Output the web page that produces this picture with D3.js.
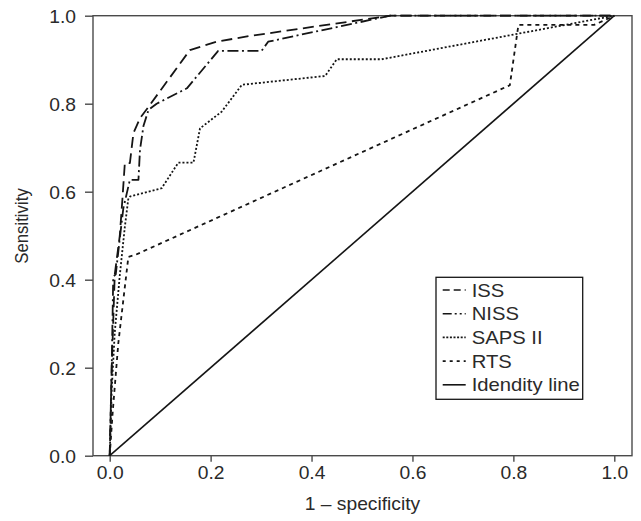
<!DOCTYPE html>
<html>
<head>
<meta charset="utf-8">
<script src="https://cdn.jsdelivr.net/npm/d3@7/dist/d3.min.js"></script>
<style>
  html, body { margin: 0; padding: 0; background: #fff; }
  svg { display: block; font-family: "Liberation Sans", Arial, Helvetica, sans-serif; }
</style>
</head>
<body>
<svg id="chart" width="641" height="521"></svg>
<script>
// ---- data ----
const xTicks = [0, 0.2, 0.4, 0.6, 0.8, 1.0];
const yTicks = [0, 0.2, 0.4, 0.6, 0.8, 1.0];
const seriesNames = ["ISS", "NISS", "SAPS II", "RTS", "Idendity line"];

const issX  = [0, 0.004, 0.010, 0.020, 0.025, 0.030, 0.040, 0.047, 0.060, 0.077, 0.159, 0.212, 0.278, 0.556, 1.0];
const issY  = [0, 0.200, 0.412, 0.500, 0.580, 0.665, 0.665, 0.733, 0.767, 0.793, 0.922, 0.941, 0.954, 1.0, 1.0];

const nissX = [0, 0.004, 0.007, 0.012, 0.020, 0.027, 0.040, 0.057, 0.060, 0.067, 0.077, 0.093, 0.153, 0.215, 0.301, 0.314, 0.556, 1.0];
const nissY = [0, 0.200, 0.407, 0.412, 0.494, 0.562, 0.627, 0.627, 0.695, 0.750, 0.786, 0.800, 0.835, 0.920, 0.920, 0.941, 1.0, 1.0];

const sapsX = [0, 0.004, 0.010, 0.020, 0.030, 0.037, 0.040, 0.103, 0.136, 0.166, 0.179, 0.222, 0.262, 0.427, 0.450, 0.539, 1.0];
const sapsY = [0, 0.150, 0.280, 0.410, 0.520, 0.585, 0.589, 0.608, 0.666, 0.666, 0.744, 0.782, 0.843, 0.863, 0.901, 0.901, 1.0];

const rtsX  = [0, 0.006, 0.017, 0.027, 0.037, 0.050, 0.793, 0.810, 0.960, 1.0];
const rtsY  = [0, 0.100, 0.255, 0.354, 0.452, 0.456, 0.842, 0.979, 0.979, 1.0];

const idX   = [0, 1];
const idY   = [0, 1];

// ---- layout ----
const svg = d3.select("#chart");
const mLeft = 93, mRight = 632, mTop = 15.7, mBottom = 455.7;
const TX = 1.1; // horizontal stretch of the reference's lettering

const x = d3.scaleLinear().domain([-0.0331, 1.0351]).range([mLeft, mRight]);
const y = d3.scaleLinear().domain([0, 1]).range([mBottom, mTop]);

const axisColor = "#4a4a4a";
const lineColor = "#151515";
const textColor = "#2a2a2a";

// frame
svg.append("rect")
  .attr("x", mLeft).attr("y", mTop)
  .attr("width", mRight - mLeft).attr("height", mBottom - mTop)
  .attr("fill", "none").attr("stroke", axisColor).attr("stroke-width", 1.4);

// x axis
const gx = svg.append("g").attr("transform", `translate(0,${mBottom})`)
  .call(d3.axisBottom(x).tickValues(xTicks).tickFormat(d3.format(".1f")).tickSize(6).tickSizeOuter(0));
gx.select(".domain").remove();
gx.selectAll(".tick line").attr("stroke", axisColor).attr("stroke-width", 1.4);
gx.selectAll(".tick text")
  .attr("y", 11).attr("dy", "0.71em")
  .attr("font-size", 17.5).attr("fill", textColor)
  .attr("font-family", "'Liberation Sans', Arial, Helvetica, sans-serif")
  .attr("transform", `scale(${TX},1)`);

// y axis
const gy = svg.append("g").attr("transform", `translate(${mLeft},0)`)
  .call(d3.axisLeft(y).tickValues(yTicks).tickFormat(d3.format(".1f")).tickSize(8).tickSizeOuter(0));
gy.select(".domain").remove();
gy.selectAll(".tick line").attr("stroke", axisColor).attr("stroke-width", 1.4);
gy.selectAll(".tick text")
  .attr("x", -17 / TX).attr("dy", "0.36em")
  .attr("font-size", 17.5).attr("fill", textColor)
  .attr("font-family", "'Liberation Sans', Arial, Helvetica, sans-serif")
  .attr("transform", `scale(${TX},1)`);

// axis titles
svg.append("text")
  .attr("transform", `translate(${(mLeft + mRight) / 2},510) scale(${TX},1)`)
  .attr("text-anchor", "middle")
  .attr("font-size", 17.5).attr("fill", textColor)
  .text("1 \u2013 specificity");

svg.append("text")
  .attr("transform", `translate(28,226) scale(${TX},1) rotate(-90)`)
  .attr("text-anchor", "middle")
  .attr("font-size", 16.8).attr("fill", textColor)
  .text("Sensitivity");

// curves
const styles = [
  { xs: issX,  ys: issY,  dash: "11,5.5",    w: 1.8 },
  { xs: nissX, ys: nissY, dash: "11,3.5,2,3.5", w: 1.8 },
  { xs: sapsX, ys: sapsY, dash: "2,2",       w: 1.8 },
  { xs: rtsX,  ys: rtsY,  dash: "4,4",       w: 1.8 },
  { xs: idX,   ys: idY,   dash: null,        w: 1.6 }
];

const line = d3.line().x(d => x(d[0])).y(d => y(d[1]));
const plot = svg.append("g");
styles.forEach(s => {
  const pts = s.xs.map((v, i) => [v, s.ys[i]]);
  plot.append("path")
    .attr("d", line(pts))
    .attr("fill", "none")
    .attr("stroke", lineColor)
    .attr("stroke-width", s.w)
    .attr("stroke-dasharray", s.dash)
    .attr("stroke-linejoin", "round");
});

// legend
const lg = svg.append("g");
lg.append("rect")
  .attr("x", 436).attr("y", 277.3).attr("width", 146.7).attr("height", 122)
  .attr("fill", "#fff").attr("stroke", lineColor).attr("stroke-width", 1.3);
const legendDash = ["7,4", "9,3,2,3,2,3", "2,1.6", "3,4", null];
seriesNames.forEach((name, i) => {
  const cy = 290 + i * 23.7;
  lg.append("line")
    .attr("x1", 442.7).attr("x2", 465.7).attr("y1", cy).attr("y2", cy)
    .attr("stroke", lineColor).attr("stroke-width", 1.6)
    .attr("stroke-dasharray", legendDash[i]);
  lg.append("text")
    .attr("transform", `translate(471.7,${cy}) scale(${TX},1)`)
    .attr("dy", "0.36em")
    .attr("font-size", 18.4).attr("fill", textColor)
    .text(name);
});
</script>
</body>
</html>
